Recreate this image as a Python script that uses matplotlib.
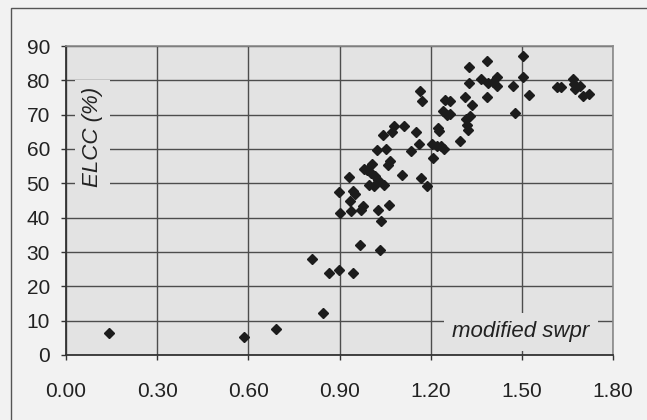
import matplotlib
matplotlib.use("Agg")
import matplotlib.pyplot as plt
from matplotlib.patches import Rectangle

# modified swpr vs ELCC (%)
swpr = [0.14, 0.585, 0.69, 0.81, 0.845, 0.866, 0.898, 0.944, 0.966,
        0.898, 0.90, 0.932, 0.936, 0.939, 0.944, 0.951, 0.971, 0.977,
        0.982, 0.99, 0.997, 1.004, 1.008, 1.012, 1.018, 1.022, 1.027,
        1.027, 1.034, 1.038, 1.042, 1.047, 1.053, 1.058, 1.064, 1.067,
        1.072, 1.079, 1.106, 1.113, 1.136, 1.151, 1.16, 1.164, 1.172,
        1.167, 1.189, 1.205, 1.208, 1.221, 1.224, 1.227, 1.235, 1.239,
        1.244, 1.246, 1.255, 1.262, 1.265, 1.296, 1.313, 1.316, 1.32,
        1.323, 1.326, 1.326, 1.33, 1.337, 1.365, 1.385, 1.385, 1.388,
        1.404, 1.418, 1.418, 1.472, 1.479, 1.503, 1.503, 1.522, 1.615,
        1.628, 1.669, 1.672, 1.676, 1.69, 1.701, 1.72]
elcc = [6.4, 5.1, 7.7, 28.0, 12.1, 23.9, 24.9, 23.9, 32.0,
        47.4, 41.3, 51.7, 44.9, 41.8, 47.7, 46.9, 42.3, 43.5,
        54.2, 53.8, 49.4, 53.0, 55.6, 49.1, 52.0, 59.8, 51.1,
        42.3, 30.5, 38.9, 64.2, 49.4, 60.0, 55.4, 43.8, 56.5,
        65.0, 66.8, 52.5, 66.8, 59.3, 65.0, 61.6, 76.8, 73.9,
        51.6, 49.3, 61.6, 57.4, 60.8, 66.1, 65.1, 60.8, 71.2,
        60.1, 74.4, 70.0, 70.3, 73.9, 62.4, 75.1, 68.8, 67.1,
        65.6, 83.8, 79.2, 69.5, 72.9, 80.5, 85.6, 75.1, 79.2,
        79.6, 81.0, 78.4, 78.4, 70.5, 87.2, 81.0, 75.8, 78.1,
        78.1, 80.5, 79.0, 77.5, 78.4, 75.3, 76.0]

xticks = [0.0, 0.3, 0.6, 0.9, 1.2, 1.5, 1.8]
yticks = [0, 10, 20, 30, 40, 50, 60, 70, 80, 90]

plt.rcParams['font.family'] = ['Liberation Sans', 'DejaVu Sans']

fig = plt.figure(figsize=(6.47, 4.2), dpi=100, facecolor='#f2f2f2')
# scanned page frame (top and left edges visible)
fig.patches.append(Rectangle((11 / 647, -0.1), 1.0, (420 - 8) / 420 + 0.1,
                             transform=fig.transFigure, fill=False,
                             edgecolor='#555555', lw=1.0))

ax = fig.add_axes([66 / 647, (420 - 355) / 420, (613 - 66) / 647, (355 - 46) / 420])
ax.set_facecolor('#e3e3e3')

ax.plot(swpr, elcc, linestyle='none', marker='D', markersize=4.6,
        color='#1c1c1c', zorder=3)

ax.set_xlim(0, 1.8)
ax.set_ylim(0, 90)
ax.set_xticks(xticks)
ax.set_xticklabels([f"{t:.2f}" for t in xticks])
ax.set_yticks(yticks)
ax.set_axisbelow(True)
ax.grid(True, color='#4d4d4d', lw=1.0)

for side in ['top', 'right']:
    ax.spines[side].set_color('#8a8a8a')
    ax.spines[side].set_linewidth(1.2)
for side in ['left', 'bottom']:
    ax.spines[side].set_color('#333333')
    ax.spines[side].set_linewidth(1.3)

ax.tick_params(axis='both', direction='out', length=3.6, width=1.0,
               color='#333333', labelsize=15, labelcolor='#222222')
ax.tick_params(axis='x', pad=15.5)
ax.tick_params(axis='y', pad=8)

box = dict(facecolor='#e3e3e3', edgecolor='none', pad=5)
ax.text(0.086, 63.5, "ELCC (%)", rotation=90, style='italic', fontsize=16,
        ha='center', va='center', color='#222222', bbox=box, zorder=2)
ax.text(1.497, 6.7, "modified swpr", style='italic', fontsize=16,
        ha='center', va='center', color='#222222',
        bbox=dict(facecolor='#e3e3e3', edgecolor='none', pad=6), zorder=2)

fig.savefig("out.png", dpi=100, facecolor=fig.get_facecolor())
